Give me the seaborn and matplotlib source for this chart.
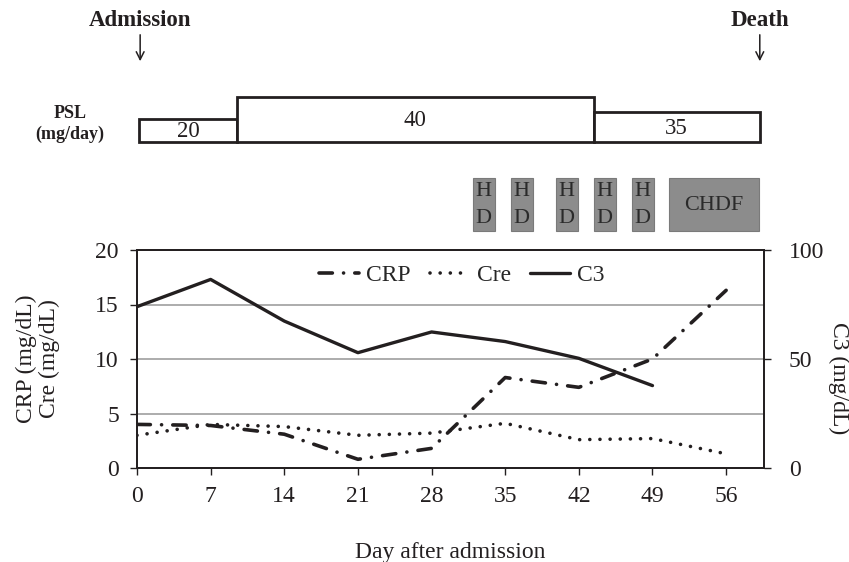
import matplotlib
matplotlib.use("Agg")
import matplotlib.pyplot as plt
import seaborn as sns

# data
days = [0, 7, 14, 21, 28, 35, 42, 49, 56]
crp = [4.0, 3.9, 3.1, 0.8, 1.8, 8.3, 7.4, 10.0, 16.3]
cre = [3.0, 4.0, 3.8, 3.0, 3.2, 4.1, 2.6, 2.7, 1.3]
c3_days = [0, 7, 14, 21, 28, 35, 42, 49]
c3 = [74, 86.5, 67.4, 52.9, 62.4, 58, 50.3, 37.8]

# PSL schedule (day start / end, dose)
psl_start = [0.2, 9.5, 43.4]
psl_end = [9.5, 43.4, 59.2]
psl_dose = ["20", "40", "35"]
psl_box_h = [23, 45, 30]

# dialysis sessions (day start / end, label)
dial_start = [31.9, 35.55, 39.8, 43.4, 47.05, 50.6]
dial_end = [34.0, 37.6, 41.9, 45.5, 49.1, 59.1]
dial_label = ["H\nD", "H\nD", "H\nD", "H\nD", "H\nD", "CHDF"]

admission_day = 0.3
death_day = 59.2

sns.set_style("ticks")
plt.rcParams["font.family"] = ["Liberation Serif", "DejaVu Serif"]
ink = "#231f20"

W, H = 849, 562
fig = plt.figure(figsize=(W / 100, H / 100), dpi=100)
ax = fig.add_axes([137 / W, (H - 468) / H, 627 / W, 218 / H])
ax2 = ax.twinx()
top = fig.add_axes([137 / W, (H - 240) / H, 627 / W, 240 / H])

XMAX = 59.6

# main lines
sns.lineplot(x=days, y=crp, ax=ax, color=ink, lw=2.6, label="CRP",
             linestyle=(0, (3.7, 3.1, 0.01, 3.1)), dash_capstyle="round")
sns.lineplot(x=days, y=cre, ax=ax, color=ink, lw=2.6, label="Cre",
             linestyle=(0, (0.01, 2.8)), dash_capstyle="round")
sns.lineplot(x=c3_days, y=c3, ax=ax2, color=ink, lw=2.4, label="C3")

for a in (ax, ax2):
    if a.get_legend() is not None:
        a.get_legend().remove()

ax.set_xlim(0, XMAX)
ax.set_ylim(0, 20)
ax.set_yticks([0, 5, 10, 15, 20])
ax.set_xticks(days)
ax2.set_ylim(0, 100)
ax2.set_yticks([0, 50, 100])
ax.yaxis.grid(True, color="#a6a6a6", lw=1.3)
ax.set_axisbelow(True)

for a in (ax, ax2):
    for s in a.spines.values():
        s.set_visible(True)
        s.set_color(ink)
        s.set_linewidth(1.3)
    a.tick_params(labelsize=17, length=5, width=1, color=ink, pad=8, labelcolor=ink)
    a.set_ylabel("")
ax2.tick_params(axis="y", pad=13)

ax.set_xlabel("Day after admission", fontsize=17, color=ink, labelpad=25)

fig.text(38 / W, 1 - 359 / H, "CRP (mg/dL)\nCre (mg/dL)", rotation=90,
         ha="center", va="center", fontsize=17, color=ink, linespacing=1.1)
fig.text(839 / W, 1 - 378 / H, "C3 (mg/dL)", rotation=270,
         ha="center", va="center", fontsize=17, color=ink)

h1, l1 = ax.get_legend_handles_labels()
h2, l2 = ax2.get_legend_handles_labels()
ax2.legend(h1 + h2, l1 + l2, ncol=3, frameon=False, fontsize=17,
           loc="center", bbox_to_anchor=(0.518, 0.885),
           handlelength=1.7, handletextpad=0.3, columnspacing=0.8)

# top panel: PSL and dialysis
top.set_xlim(0, XMAX)
top.set_ylim(0, 240)
top.axis("off")

widths = [e - s for s, e in zip(psl_start, psl_end)]
top.bar(psl_start, psl_box_h, width=widths, bottom=98, align="edge",
        color="white", edgecolor=ink, lw=2)
for s, w, h, lab in zip(psl_start, widths, psl_box_h, psl_dose):
    top.text(s + w / 2, 97 + h / 2, lab, ha="center", va="center",
             fontsize=16.5, color=ink)

d_widths = [e - s for s, e in zip(dial_start, dial_end)]
top.bar(dial_start, 53, width=d_widths, bottom=9, align="edge",
        color="#8c8c8c", edgecolor="#7a7a7a", lw=0.8)
for s, w, lab in zip(dial_start, d_widths, dial_label):
    top.text(s + w / 2, 35, lab, ha="center", va="center",
             fontsize=16, color="#2a2a2a", linespacing=1.6)

for d, lab in [(admission_day, "Admission"), (death_day, "Death")]:
    top.text(d, 219, lab, ha="center", va="center", fontsize=16.5,
             fontweight="bold", color=ink, clip_on=False)
    top.annotate("", xy=(d, 176), xytext=(d, 208),
                 arrowprops=dict(arrowstyle="->", color=ink, lw=1.1,
                                 mutation_scale=14), annotation_clip=False)

fig.text(70 / W, 1 - 113 / H, "PSL", ha="center", va="center",
         fontsize=13, fontweight="bold", color=ink)
fig.text(70 / W, 1 - 134 / H, "(mg/day)", ha="center", va="center",
         fontsize=13, fontweight="bold", color=ink)

fig.savefig("out.png", dpi=100)
